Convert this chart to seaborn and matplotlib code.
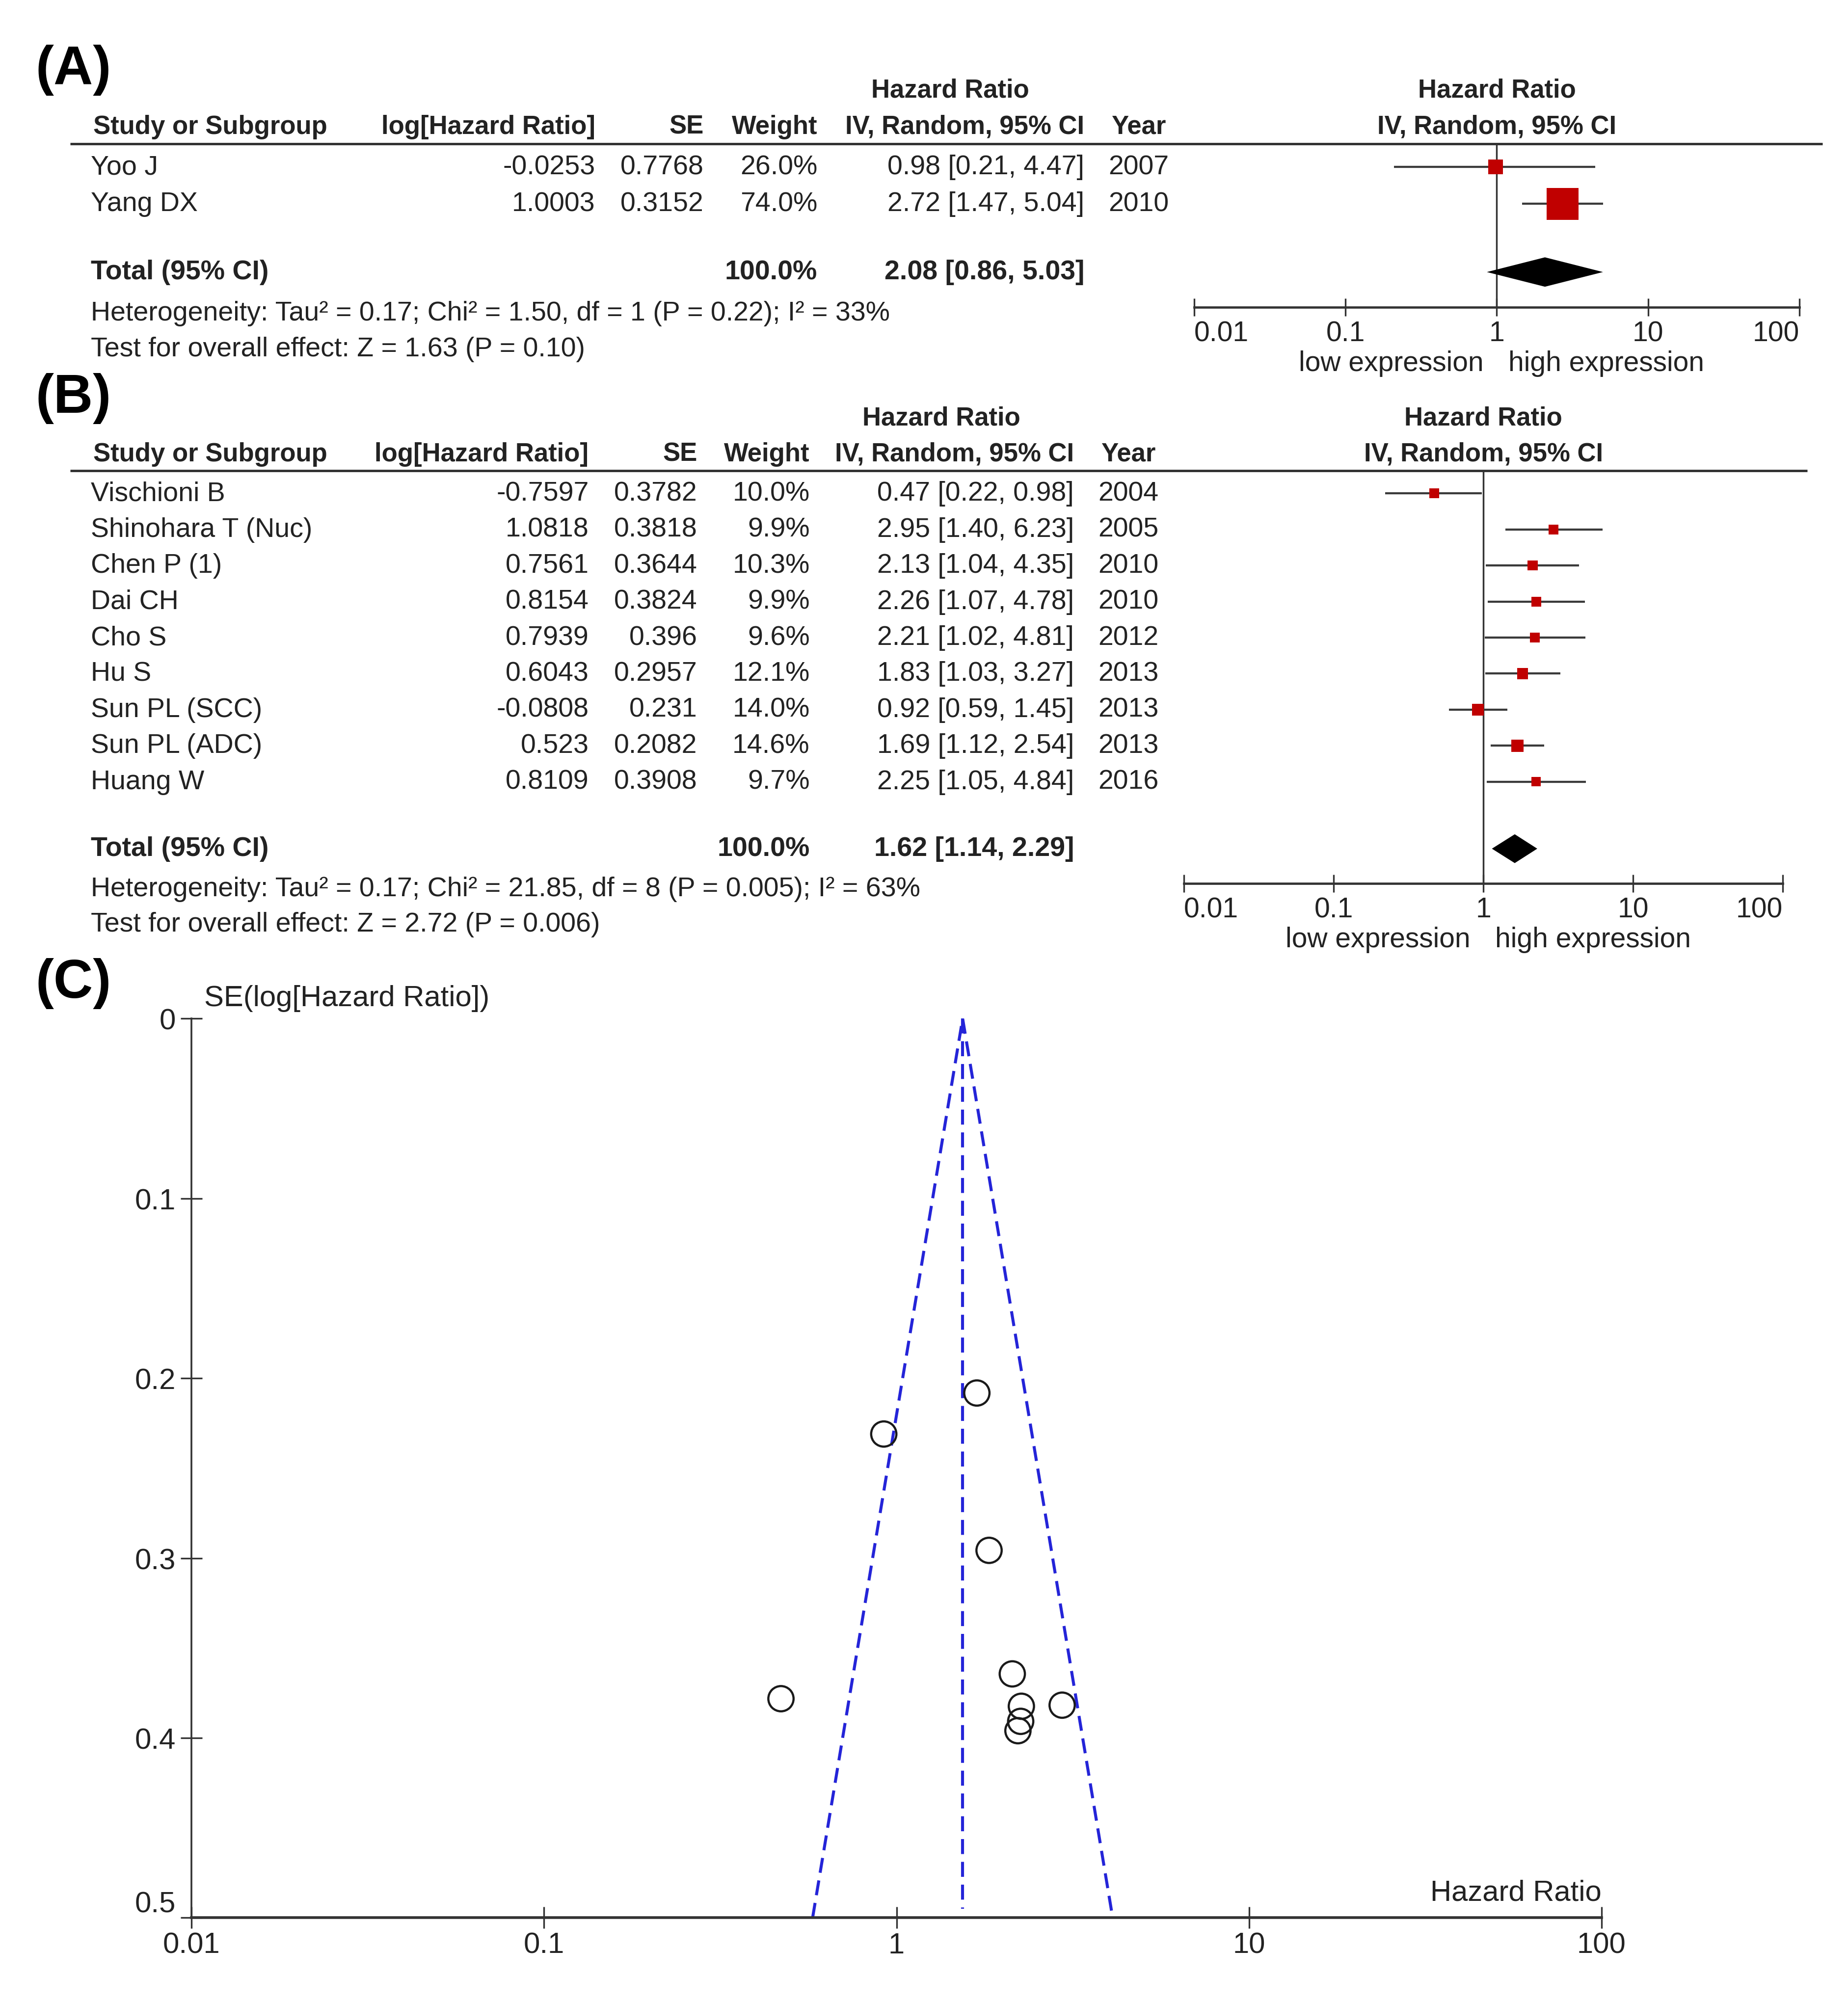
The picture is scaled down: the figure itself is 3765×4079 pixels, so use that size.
import numpy as np
import matplotlib
matplotlib.use("Agg")
import matplotlib.pyplot as plt
import matplotlib.transforms as mtransforms
from matplotlib.ticker import NullLocator
import seaborn as sns

# ---- panel A: forest plot, 2 studies ----
studies_a = ["Yoo J", "Yang DX"]
loghr_a = [-0.0253, 1.0003]
se_a = [0.7768, 0.3152]
weight_a = [26.0, 74.0]
hr_a = [0.98, 2.72]
lo_a = [0.21, 1.47]
hi_a = [4.47, 5.04]
year_a = [2007, 2010]
total_a = [2.08, 0.86, 5.03]
total_weight_a = 100.0
het_a = "Heterogeneity: Tau² = 0.17; Chi² = 1.50, df = 1 (P = 0.22); I² = 33%"
test_a = "Test for overall effect: Z = 1.63 (P = 0.10)"

# ---- panel B: forest plot, 9 studies ----
studies_b = ["Vischioni B", "Shinohara T (Nuc)", "Chen P (1)", "Dai CH", "Cho S",
             "Hu S", "Sun PL (SCC)", "Sun PL (ADC)", "Huang W"]
loghr_b = [-0.7597, 1.0818, 0.7561, 0.8154, 0.7939, 0.6043, -0.0808, 0.523, 0.8109]
se_b = [0.3782, 0.3818, 0.3644, 0.3824, 0.396, 0.2957, 0.231, 0.2082, 0.3908]
weight_b = [10.0, 9.9, 10.3, 9.9, 9.6, 12.1, 14.0, 14.6, 9.7]
hr_b = [0.47, 2.95, 2.13, 2.26, 2.21, 1.83, 0.92, 1.69, 2.25]
lo_b = [0.22, 1.40, 1.04, 1.07, 1.02, 1.03, 0.59, 1.12, 1.05]
hi_b = [0.98, 6.23, 4.35, 4.78, 4.81, 3.27, 1.45, 2.54, 4.84]
year_b = [2004, 2005, 2010, 2010, 2012, 2013, 2013, 2013, 2016]
total_b = [1.62, 1.14, 2.29]
total_weight_b = 100.0
het_b = "Heterogeneity: Tau² = 0.17; Chi² = 21.85, df = 8 (P = 0.005); I² = 63%"
test_b = "Test for overall effect: Z = 2.72 (P = 0.006)"

# ---- panel C: funnel centre ----
funnel_center = 1.54

# shared axis labels
hr_ticks = [0.01, 0.1, 1, 10, 100]
hr_ticklabels = ["0.01", "0.1", "1", "10", "100"]
se_ticks = [0, 0.1, 0.2, 0.3, 0.4, 0.5]
se_ticklabels = ["0", "0.1", "0.2", "0.3", "0.4", "0.5"]

RED = "#C00000"
LINE = "#333333"
TXT = "#222222"
BLUE = "#2424d8"

sns.set_style("white")
plt.rcParams["font.family"] = ["Liberation Sans", "DejaVu Sans"]

fig = plt.figure(figsize=(37.65, 40.80), dpi=100)
fig.patch.set_facecolor("white")

# layout measured on a 1447 x 1568 preview of the target
W, H = 1447.0, 1568.0


def fx(x):
    return x / W


def fy(y):
    return 1 - y / H


def fmt4(v):
    return ("%.4f" % v).rstrip("0").rstrip(".")


def forest(ax, cols, studies, loghr, se, weight, hr, lo, hi, year, total, total_w,
           het, test, box_sizes):
    n = len(studies)
    rows = np.arange(n)
    ty = n - 1 + 1.86

    ax.set_xscale("log")
    ax.axvline(1, color=LINE, lw=2.5, zorder=1)
    ax.hlines(rows, lo, hi, color="#3a3a3a", lw=3.1, zorder=2)
    sns.scatterplot(x=hr, y=rows, size=weight, sizes=box_sizes, marker="s",
                    color=RED, linewidth=0, legend=False, ax=ax, zorder=3)
    est, tlo, thi = total
    ax.fill([tlo, est, thi, est], [ty, ty - 0.4, ty, ty + 0.4],
            color="black", lw=0, zorder=3)

    ax.set_xlim(0.01, 100)
    ax.set_ylim(ty + 0.96, -0.63)
    ax.set_xlabel("")
    ax.set_ylabel("")
    ax.set_yticks([])
    ax.set_xticks(hr_ticks)
    ax.set_xticklabels(hr_ticklabels)
    ax.xaxis.set_minor_locator(NullLocator())
    ax.tick_params(axis="x", bottom=True, direction="inout", length=26, width=2.4, pad=6,
                   labelsize=41, color=LINE, labelcolor=TXT)
    xt = ax.xaxis.get_major_ticks()
    xt[0].label1.set_horizontalalignment("left")
    xt[-1].label1.set_horizontalalignment("right")
    for side in ["left", "top", "right"]:
        ax.spines[side].set_visible(False)
    ax.spines["bottom"].set_linewidth(3.4)
    ax.spines["bottom"].set_color(LINE)

    ax.annotate("low expression", xy=(1, 0), xycoords=("data", "axes fraction"),
                xytext=(-19, -82), textcoords="offset points", ha="right", va="center",
                fontsize=41, color=TXT)
    ax.annotate("high expression", xy=(1, 0), xycoords=("data", "axes fraction"),
                xytext=(17, -82), textcoords="offset points", ha="left", va="center",
                fontsize=41, color=TXT)

    # table on the left, rows share the forest axis y scale
    tr = mtransforms.blended_transform_factory(fig.transFigure, ax.transData)
    tra = mtransforms.blended_transform_factory(ax.transAxes, ax.transData)
    hb = dict(fontsize=38, fontweight="bold", color=TXT, va="center", transform=tr)
    fig.text(fx(cols["hr_head"]), -2.1, "Hazard Ratio", ha="center", **hb)
    fig.text(fx(cols["name"] + 2), -1.1, "Study or Subgroup", ha="left", **hb)
    fig.text(fx(cols["loghr"]), -1.1, "log[Hazard Ratio]", ha="right", **hb)
    fig.text(fx(cols["se"]), -1.1, "SE", ha="right", **hb)
    fig.text(fx(cols["weight"]), -1.1, "Weight", ha="right", **hb)
    fig.text(fx(cols["ci"]), -1.1, "IV, Random, 95% CI", ha="right", **hb)
    fig.text(fx(cols["year"] + 2), -1.1, "Year", ha="left", **hb)
    hb["transform"] = tra
    ax.text(0.5, -2.1, "Hazard Ratio", ha="center", **hb)
    ax.text(0.5, -1.1, "IV, Random, 95% CI", ha="center", **hb)

    ax.plot([fx(cols["line"][0]), fx(cols["line"][1])], [-0.63, -0.63], transform=tr,
            color=LINE, lw=3.6, clip_on=False, solid_capstyle="butt")

    rb = dict(fontsize=40, color=TXT, va="center", transform=tr)
    for i in range(n):
        fig.text(fx(cols["name"]), rows[i], studies[i], ha="left", **rb)
        fig.text(fx(cols["loghr"]), rows[i], fmt4(loghr[i]), ha="right", **rb)
        fig.text(fx(cols["se"]), rows[i], fmt4(se[i]), ha="right", **rb)
        fig.text(fx(cols["weight"]), rows[i], "%.1f%%" % weight[i], ha="right", **rb)
        fig.text(fx(cols["ci"]), rows[i], "%.2f [%.2f, %.2f]" % (hr[i], lo[i], hi[i]),
                 ha="right", **rb)
        fig.text(fx(cols["year"]), rows[i], str(year[i]), ha="left", **rb)

    tb = dict(rb, fontweight="bold")
    fig.text(fx(cols["name"]), ty, "Total (95% CI)", ha="left", **tb)
    fig.text(fx(cols["weight"]), ty, "%.1f%%" % total_w, ha="right", **tb)
    fig.text(fx(cols["ci"]), ty, "%.2f [%.2f, %.2f]" % (est, tlo, thi), ha="right", **tb)
    fig.text(fx(cols["name"]), ty + 1.12, het, ha="left", **rb)
    fig.text(fx(cols["name"]), ty + 2.1, test, ha="left", **rb)


cols_a = dict(name=71, loghr=466, se=551, weight=640, ci=849, year=868, hr_head=744,
              line=(55, 1427))
cols_b = dict(name=71, loghr=461, se=546, weight=634, ci=841, year=860, hr_head=737,
              line=(55, 1415))

ax_a = fig.add_axes([fx(935), fy(241), (1409 - 935) / W, (241 - 113) / H])
forest(ax_a, cols_a, studies_a, loghr_a, se_a, weight_a, hr_a, lo_a, hi_a, year_a,
       total_a, total_weight_a, het_a, test_a, box_sizes=(460, 2190))

ax_b = fig.add_axes([fx(927), fy(692), (1396 - 927) / W, (692 - 369) / H])
forest(ax_b, cols_b, studies_b, loghr_b, se_b, weight_b, hr_b, lo_b, hi_b, year_b,
       total_b, total_weight_b, het_b, test_b, box_sizes=(200, 320))

# ---- panel C: funnel plot ----
ax_c = fig.add_axes([fx(150), fy(1502), (1254 - 150) / W, (1502 - 798) / H])
ax_c.set_xscale("log")
se_max = se_ticks[-1]
ax_c.plot([funnel_center * np.exp(-1.96 * se_max), funnel_center,
           funnel_center * np.exp(1.96 * se_max)],
          [se_max, 0, se_max], color=BLUE, lw=4.4, dashes=(5, 2.6), zorder=2)
ax_c.plot([funnel_center, funnel_center], [0, se_max * 0.99], color=BLUE, lw=4.4,
          dashes=(5, 2.6), zorder=2)
sns.scatterplot(x=hr_b, y=se_b, marker="o", s=1370, facecolor="none",
                edgecolor="#1a1a1a", linewidth=3.2, ax=ax_c, zorder=3)

ax_c.set_xlim(0.01, 100)
ax_c.set_ylim(0.5, 0)
ax_c.set_xlabel("")
ax_c.set_ylabel("")
ax_c.set_xticks(hr_ticks)
ax_c.set_xticklabels(hr_ticklabels)
ax_c.set_yticks(se_ticks)
ax_c.set_yticklabels(se_ticklabels)
ax_c.xaxis.set_minor_locator(NullLocator())
ax_c.tick_params(axis="both", bottom=True, left=True, direction="inout", length=31,
                 width=2.4, labelsize=43, color=LINE, labelcolor=TXT)
ax_c.tick_params(axis="x", pad=5)
ax_c.tick_params(axis="y", pad=8)
ax_c.yaxis.get_major_ticks()[-1].label1.set_verticalalignment("bottom")
for side in ["top", "right"]:
    ax_c.spines[side].set_visible(False)
ax_c.spines["left"].set_linewidth(2.6)
ax_c.spines["left"].set_color(LINE)
ax_c.spines["bottom"].set_linewidth(4)
ax_c.spines["bottom"].set_color(LINE)

ax_c.text(0.009, 1.023, "SE(log[Hazard Ratio])", transform=ax_c.transAxes,
          ha="left", va="center", fontsize=43, color=TXT)
ax_c.text(1.0, 0.028, "Hazard Ratio", transform=ax_c.transAxes,
          ha="right", va="center", fontsize=43, color=TXT)

# panel letters
for lab, ypos in [("(A)", 55), ("(B)", 312), ("(C)", 770)]:
    fig.text(fx(28), fy(ypos), lab, ha="left", va="center", fontsize=80,
             fontweight="bold", color="black")

fig.savefig("out.png", dpi=100)
